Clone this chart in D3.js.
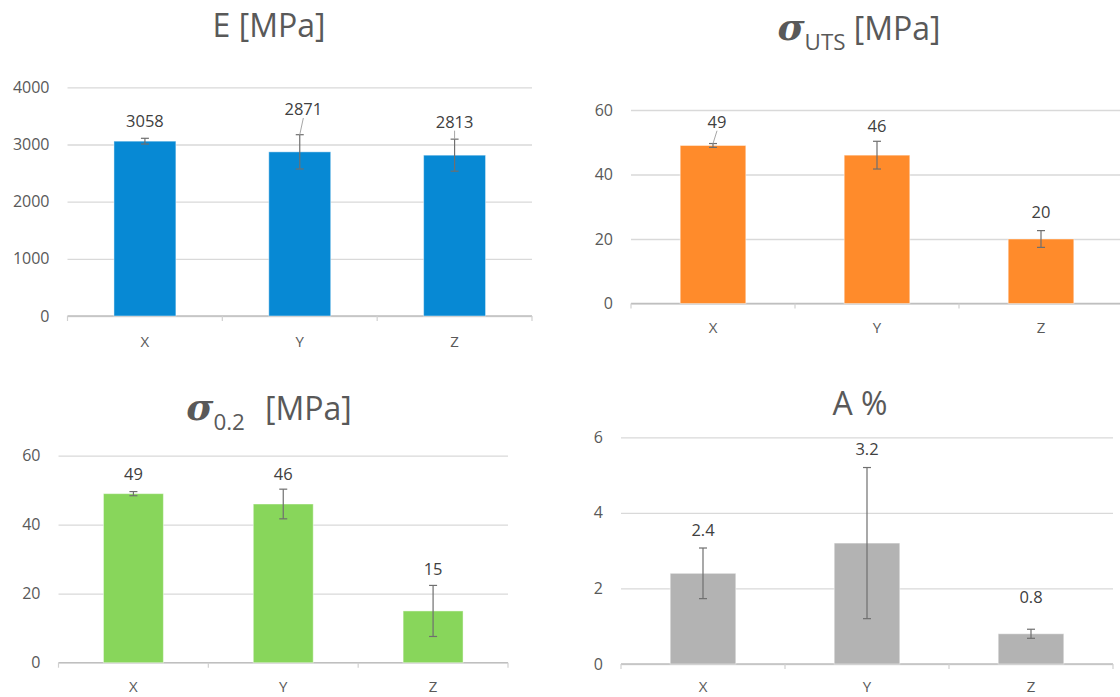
<!DOCTYPE html>
<html>
<head>
<meta charset="utf-8">
<script src="https://cdn.jsdelivr.net/npm/d3@7"></script>
<style>
  html, body { margin: 0; padding: 0; background: #ffffff; }
  svg { display: block; font-family: "Open Sans", sans-serif; }
</style>
</head>
<body>
<svg id="chart" width="1120" height="697"></svg>
<script>
// Build directions
const categories = ["X", "Y", "Z"];

// Young's modulus E [MPa]
const modulusValues = [3058, 2871, 2813];
const modulusErrors = [50, 300, 280];
const modulusTicks = [0, 1000, 2000, 3000, 4000];

// Ultimate tensile strength [MPa]
const utsValues = [49, 46, 20];
const utsErrors = [0.6, 4.3, 2.6];
const utsTicks = [0, 20, 40, 60];

// Yield strength at 0.2 % offset [MPa]
const yieldValues = [49, 46, 15];
const yieldErrors = [0.6, 4.3, 7.4];
const yieldTicks = [0, 20, 40, 60];

// Elongation at break [%]
const elongValues = [2.4, 3.2, 0.8];
const elongErrors = [0.67, 2.0, 0.12];
const elongTicks = [0, 2, 4, 6];

const svg = d3.select("#chart");

const panels = [
  {
    values: modulusValues, errors: modulusErrors, ticks: modulusTicks,
    left: 67.5, right: 532, top: 87.3, bottom: 316, catPad: 20,
    color: "#0789d4",
    title: [{ t: "E [MPa]" }], titleX: 269, titleY: 37, titleSize: 32,
    labelGap: [17.6, 25.7, 17.5], labelDx: [0, 3.6, 0], leader: [false, true, true]
  },
  {
    values: utsValues, errors: utsErrors, ticks: utsTicks,
    left: 631, right: 1123, top: 110, bottom: 303.5, catPad: 19,
    color: "#ff8b2b",
    title: [
      { t: "σ", sigma: true },
      { t: "UTS", sub: true },
      { t: " [MPa]", back: true }
    ], titleX: 859, titleY: 40, titleSize: 32,
    labelGap: [21.8, 15, 18.9], labelDx: [4, 0, 0], leader: [true, false, false]
  },
  {
    values: yieldValues, errors: yieldErrors, ticks: yieldTicks,
    left: 58.5, right: 508, top: 455.7, bottom: 662.7, catPad: 19,
    color: "#88d65b",
    title: [
      { t: "σ", sigma: true },
      { t: "0.2", sub: true },
      { t: "[MPa]", back: true, gap: 20 }
    ], titleX: 269, titleY: 420, titleSize: 32,
    labelGap: [17.6, 15.2, 16.7], labelDx: [0, 0, 0], leader: [false, false, false]
  },
  {
    values: elongValues, errors: elongErrors, ticks: elongTicks,
    left: 621, right: 1113, top: 437.3, bottom: 664, catPad: 17,
    color: "#b3b3b3",
    title: [{ t: "A %" }], titleX: 860, titleY: 415, titleSize: 32,
    labelGap: [17.7, 18.5, 32.2], labelDx: [0, 0, 0], leader: [false, false, false]
  }
];

panels.forEach(p => {
  const g = svg.append("g");
  const maxTick = d3.max(p.ticks);

  const x = d3.scaleBand().domain(categories).range([p.left, p.right]).padding(0);
  const y = d3.scaleLinear().domain([0, maxTick]).range([p.bottom, p.top]);
  const bw = x.bandwidth();

  // Gridlines and value axis labels
  const yAxis = g.append("g")
    .attr("transform", `translate(${p.left},0)`)
    .call(d3.axisLeft(y).tickValues(p.ticks).tickSize(-(p.right - p.left)).tickPadding(18)
      .tickFormat(d3.format("d")));
  yAxis.select(".domain").remove();
  yAxis.selectAll(".tick line").attr("stroke", "#d9d9d9").attr("stroke-width", 1.3);
  yAxis.selectAll(".tick text")
    .attr("fill", "#595959").attr("font-size", 16).attr("font-family", "Open Sans, sans-serif");

  // Category axis: baseline with boundary tick marks
  const xAxis = g.append("g")
    .attr("transform", `translate(0,${p.bottom})`)
    .call(d3.axisBottom(x).tickSize(0).tickPadding(p.catPad));
  xAxis.select(".domain").remove();
  xAxis.selectAll(".tick text")
    .attr("fill", "#595959").attr("font-size", 15).attr("font-family", "Open Sans, sans-serif");

  g.append("line")
    .attr("x1", p.left).attr("x2", p.right)
    .attr("y1", p.bottom).attr("y2", p.bottom)
    .attr("stroke", "#bfbfbf").attr("stroke-width", 1.3);

  const bounds = categories.map(c => x(c)).concat([x(categories[categories.length - 1]) + bw]);
  g.selectAll(".bound").data(bounds).enter().append("line")
    .attr("x1", d => d).attr("x2", d => d)
    .attr("y1", p.bottom).attr("y2", p.bottom + 5)
    .attr("stroke", "#d0d0d0").attr("stroke-width", 1.2);

  const rows = categories.map((c, i) => ({ c, v: p.values[i], e: p.errors[i], i }));

  // Bars
  g.selectAll(".bar").data(rows).enter().append("rect")
    .attr("x", d => x(d.c) + bw * 0.3)
    .attr("width", bw * 0.4)
    .attr("y", d => y(d.v))
    .attr("height", d => y(0) - y(d.v))
    .attr("fill", p.color)
    .attr("stroke", "#ffffff").attr("stroke-opacity", 0.45).attr("stroke-width", 1);

  // Error bars
  const cx = d => x(d.c) + bw / 2;
  const eb = g.selectAll(".err").data(rows).enter().append("g").attr("stroke", "#6f6f6f").attr("stroke-width", 1.2);
  eb.append("line").attr("x1", cx).attr("x2", cx).attr("y1", d => y(d.v + d.e)).attr("y2", d => y(d.v - d.e));
  eb.append("line").attr("x1", d => cx(d) - 4).attr("x2", d => cx(d) + 4).attr("y1", d => y(d.v + d.e)).attr("y2", d => y(d.v + d.e));
  eb.append("line").attr("x1", d => cx(d) - 4).attr("x2", d => cx(d) + 4).attr("y1", d => y(d.v - d.e)).attr("y2", d => y(d.v - d.e));

  // Value labels
  const labelY = d => y(d.v + d.e) - p.labelGap[d.i];
  g.selectAll(".leader").data(rows.filter(d => p.leader[d.i])).enter().append("line")
    .attr("x1", d => cx(d) + p.labelDx[d.i]).attr("y1", d => labelY(d) + 9)
    .attr("x2", cx).attr("y2", d => y(d.v + d.e))
    .attr("stroke", "#a6a6a6").attr("stroke-width", 1);
  g.selectAll(".vlabel").data(rows).enter().append("text")
    .attr("x", d => cx(d) + p.labelDx[d.i])
    .attr("y", labelY)
    .attr("dy", "0.36em")
    .attr("text-anchor", "middle")
    .attr("fill", "#404040").attr("font-size", 16.5)
    .text(d => String(d.v));

  // Title
  const title = g.append("text")
    .attr("x", p.titleX).attr("y", p.titleY)
    .attr("text-anchor", "middle")
    .attr("fill", "#595959")
    .attr("font-size", p.titleSize);
  p.title.forEach(part => {
    const ts = title.append("tspan").text(part.t);
    if (part.sigma) {
      ts.attr("font-family", "DejaVu Serif, serif").attr("font-weight", "bold").attr("font-style", "italic")
        .attr("font-size", p.titleSize * 1.15);
    }
    if (part.sub) {
      ts.attr("font-size", p.titleSize * 0.7).attr("dy", p.titleSize * 0.3);
    }
    if (part.back) {
      ts.attr("dy", -p.titleSize * 0.3);
      if (part.gap) ts.attr("dx", part.gap);
    }
  });
});
</script>
</body>
</html>
